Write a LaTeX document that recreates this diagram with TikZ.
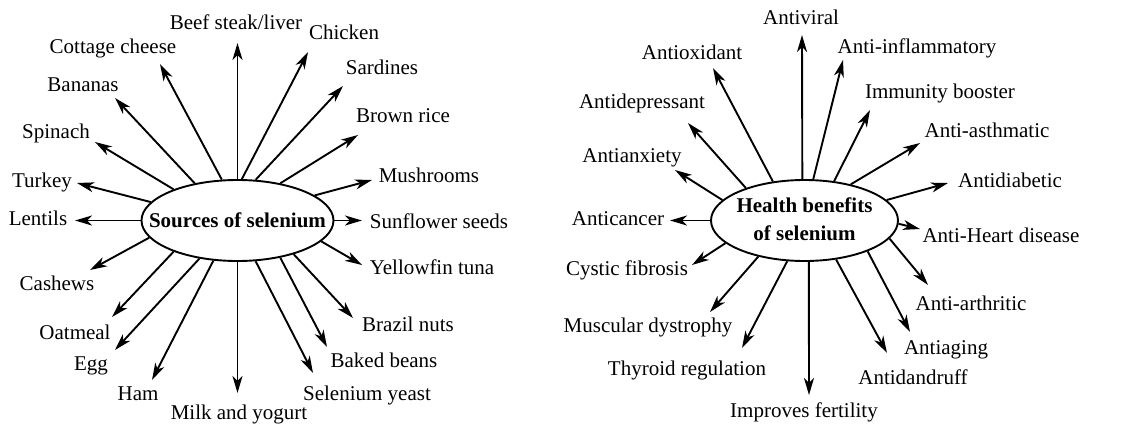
\documentclass[tikz,border=0pt]{standalone}
\usepackage{fontspec}
\setmainfont{Liberation Serif}
\usetikzlibrary{arrows.meta,shapes.geometric}
\begin{document}
\begin{tikzpicture}[x=1pt,y=-1pt,
  every node/.style={font=\fontsize{21}{28}\selectfont},
  lbl/.style={text height=14pt,text depth=0pt,inner sep=0pt,anchor=center},
  hub/.style={ellipse,draw,line width=1.9pt,inner sep=0pt,minimum width=192pt,minimum height=81pt,font=\fontsize{21}{28}\selectfont\bfseries},
  arr/.style={line width=1.9pt,-{Stealth[length=17pt,width=10pt,inset=5pt]}}]
\useasboundingbox (0,0) rectangle (1136,428);
% ---------- left ----------
\node[hub] (src) at (237.5,220.5) {\makebox[0pt]{Sources of selenium}};
\node[lbl] (beef) at (236,23) {Beef steak/liver};
\node[lbl] (chick) at (344,33) {Chicken};
\node[lbl] (sard) at (382,68) {Sardines};
\node[lbl] (brown) at (403,115) {Brown rice};
\node[lbl] (mush) at (429,175) {Mushrooms};
\node[lbl] (sun) at (439,221) {Sunflower seeds};
\node[lbl] (yell) at (432,267) {Yellowfin tuna};
\node[lbl] (braz) at (408,324) {Brazil nuts};
\node[lbl] (bake) at (384,360) {Baked beans};
\node[lbl] (yeast) at (367,393) {Selenium yeast};
\node[lbl] (milk) at (239,412) {Milk and yogurt};
\node[lbl] (ham) at (138,393) {Ham};
\node[lbl] (egg) at (91,363) {Egg};
\node[lbl] (oat) at (75,332) {Oatmeal};
\node[lbl] (cash) at (57,283) {Cashews};
\node[lbl] (lent) at (38,218) {Lentils};
\node[lbl] (turk) at (42,180) {Turkey};
\node[lbl] (spin) at (56,132) {Spinach};
\node[lbl] (ban) at (83,85) {Bananas};
\node[lbl] (cott) at (113,47) {Cottage cheese};
\coordinate (tbeef) at (237.5,43);
\coordinate (tchick) at (308,52);
\coordinate (tsard) at (343,86);
\coordinate (tbrown) at (358,135);
\coordinate (tmush) at (372,180);
\coordinate (tsun) at (362,220.5);
\coordinate (tyell) at (362,265);
\coordinate (tbraz) at (353,318);
\coordinate (tbake) at (327,347);
\coordinate (tyeast) at (313,373);
\coordinate (tmilk) at (237.5,393);
\coordinate (tham) at (152,380);
\coordinate (tegg) at (115,350);
\coordinate (toat) at (112,317);
\coordinate (tcash) at (90,270);
\coordinate (tlent) at (75,220.5);
\coordinate (tturk) at (77,183);
\coordinate (tspin) at (95,142);
\coordinate (tban) at (115,98);
\coordinate (tcott) at (160,64);
\draw[arr] (src.90) -- (tbeef);
\draw[arr] (src.84) -- (tchick);
\draw[arr] (src.66) -- (tsard);
\draw[arr] (src.41) -- (tbrown);
\draw[arr] (src.18) -- (tmush);
\draw[arr] (src.0) -- (tsun);
\draw[arr] (src.-14) -- (tyell);
\draw[arr] (src.-31) -- (tbraz);
\draw[arr] (src.-41) -- (tbake);
\draw[arr] (src.-66) -- (tyeast);
\draw[arr] (src.-90) -- (tmilk);
\draw[arr] (src.-121) -- (tham);
\draw[arr] (src.-135) -- (tegg);
\draw[arr] (src.-154) -- (toat);
\draw[arr] (src.-169) -- (tcash);
\draw[arr] (src.180) -- (tlent);
\draw[arr] (src.168) -- (tturk);
\draw[arr] (src.154) -- (tspin);
\draw[arr] (src.139) -- (tban);
\draw[arr] (src.111) -- (tcott);
% ---------- right ----------
\node[hub,minimum width=187pt] (ben) at (804.5,220.5) {\makebox[0pt]{\begin{tabular}{@{}c@{}}Health benefits\\of selenium\end{tabular}}};
\node[lbl] (viral) at (801,18) {Antiviral};
\node[lbl] (infl) at (917,47) {Anti-inflammatory};
\node[lbl] (immu) at (940,92) {Immunity booster};
\node[lbl] (asth) at (987,130) {Anti-asthmatic};
\node[lbl] (diab) at (1010,180) {Antidiabetic};
\node[lbl] (heart) at (1001,235) {Anti-Heart disease};
\node[lbl] (arth) at (971,303) {Anti-arthritic};
\node[lbl] (aging) at (946,347) {Antiaging};
\node[lbl] (dand) at (913,377) {Antidandruff};
\node[lbl] (fert) at (804,410) {Improves fertility};
\node[lbl] (thy) at (687,368) {Thyroid regulation};
\node[lbl] (musc) at (648,325) {Muscular dystrophy};
\node[lbl] (cyst) at (627,268) {Cystic fibrosis};
\node[lbl] (canc) at (618,218) {Anticancer};
\node[lbl] (anx) at (632,155) {Antianxiety};
\node[lbl] (dep) at (642,102) {Antidepressant};
\node[lbl] (oxid) at (692,53) {Antioxidant};
\coordinate (tviral) at (802,35);
\coordinate (tinfl) at (843,60);
\coordinate (timmu) at (870,110);
\coordinate (tasth) at (920,143);
\coordinate (tdiab) at (948,183);
\coordinate (theart) at (920,229);
\coordinate (tarth) at (928,285);
\coordinate (taging) at (910,332);
\coordinate (tdand) at (887,353);
\coordinate (tfert) at (809,395);
\coordinate (tthy) at (742,348);
\coordinate (tmusc) at (710,312);
\coordinate (tcyst) at (692,265);
\coordinate (tcanc) at (670,220.5);
\coordinate (tanx) at (675,170);
\coordinate (tdep) at (688,123);
\coordinate (toxid) at (713,68);
\draw[arr] (ben.93) -- (tviral);
\draw[arr] (ben.78) -- (tinfl);
\draw[arr] (ben.53) -- (timmu);
\draw[arr] (ben.38) -- (tasth);
\draw[arr] (ben.14) -- (tdiab);
\draw[arr] (ben.-2) -- (theart);
\draw[arr] (ben.-12) -- (tarth);
\draw[arr] (ben.-26) -- (taging);
\draw[arr] (ben.-51) -- (tdand);
\draw[arr] (ben.-84) -- (tfert);
\draw[arr] (ben.-113) -- (tthy);
\draw[arr] (ben.-142) -- (tmusc);
\draw[arr] (ben.-164) -- (tcyst);
\draw[arr] (ben.180) -- (tcanc);
\draw[arr] (ben.166) -- (tanx);
\draw[arr] (ben.151) -- (tdep);
\draw[arr] (ben.129) -- (toxid);
\end{tikzpicture}
\end{document}
